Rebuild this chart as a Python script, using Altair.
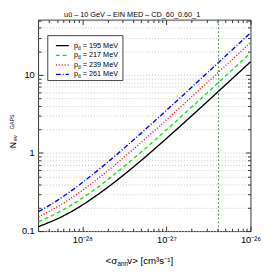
import altair as alt
import pandas as pd

# ---- data ----
sigma_v = [3e-29, 4e-29, 5e-29, 7e-29, 1e-28, 1.5e-28, 2e-28, 3e-28, 5e-28, 7e-28,
           1e-27, 2e-27, 3e-27, 5e-27, 7e-27, 1e-26]
n_195 = [0.114, 0.129, 0.143, 0.172, 0.216, 0.290, 0.363, 0.509, 0.80, 1.094,
         1.533, 2.996, 4.46, 7.39, 10.31, 14.70]
n_217 = [0.132, 0.151, 0.170, 0.208, 0.265, 0.360, 0.456, 0.646, 1.027, 1.407,
         1.978, 3.881, 5.784, 9.59, 13.40, 19.10]
n_239 = [0.152, 0.178, 0.204, 0.255, 0.333, 0.462, 0.591, 0.849, 1.366, 1.883,
         2.658, 5.24, 7.82, 12.99, 18.16, 25.90]
n_261 = [0.177, 0.212, 0.246, 0.315, 0.418, 0.590, 0.763, 1.107, 1.796, 2.484,
         3.517, 6.96, 10.40, 17.29, 24.17, 34.50]
energies = ["195", "217", "239", "261"]
series = [n_195, n_217, n_239, n_261]
colors = ["#000000", "#00ee00", "#ff0000", "#0000ff"]
dashes = [[1, 0], [4, 3], [1, 2], [5, 2, 1, 2]]
vline_x = [4.16e-27]

x_ticks = [3e-29, 4e-29, 5e-29, 6e-29, 7e-29, 8e-29, 9e-29,
           1e-28, 2e-28, 3e-28, 4e-28, 5e-28, 6e-28, 7e-28, 8e-28, 9e-28,
           1e-27, 2e-27, 3e-27, 4e-27, 5e-27, 6e-27, 7e-27, 8e-27, 9e-27, 1e-26]
y_ticks = [0.1, 0.2, 0.3, 0.4, 0.5, 0.6, 0.7, 0.8, 0.9,
           1, 2, 3, 4, 5, 6, 7, 8, 9, 10, 20, 30, 40, 50]

title_text = "u\u016b \u2013 10 GeV \u2013 EIN MED \u2013 CD_60_0.60_1"

rows = []
for e, vals in zip(energies, series):
    for xv, yv in zip(sigma_v, vals):
        rows.append({"sv": xv, "n": yv, "E": e})
df = pd.DataFrame(rows)
vdf = pd.DataFrame({"sv": vline_x})
one = pd.DataFrame({"a": [0]})

W, H = 219, 218
FONT = "Liberation Sans"
xdom = [2.97e-29, 1e-26]
ydom = [0.1, 51]
xs = alt.Scale(type="log", domain=xdom, nice=False)
ys = alt.Scale(type="log", domain=ydom, nice=False)

x_major = "datum.value == 1e-28 || datum.value == 1e-27 || datum.value == 1e-26"
y_major = "datum.value == 0.1 || datum.value == 1 || datum.value == 10"
x_lab = ("datum.value == 1e-28 ? '10\u207b\u00b2\u2078' : datum.value == 1e-27 ? "
         "'10\u207b\u00b2\u2077' : datum.value == 1e-26 ? '10\u207b\u00b2\u2076' : ''")
y_lab = ("datum.value == 0.1 ? '0.1' : datum.value == 1 ? '1' : "
         "datum.value == 10 ? '10' : ''")

tick_common = dict(labels=False, domain=False, grid=False, title=None,
                   tickColor="#333", tickWidth=1)

# curves with label axes and grid
curves = alt.Chart(df).mark_line(strokeWidth=1.4, interpolate="monotone").encode(
    x=alt.X("sv:Q", scale=xs, axis=alt.Axis(
        orient="bottom", values=x_ticks, labelExpr=x_lab, ticks=False, tickSize=0,
        domain=False, grid=False, title=None, labelFont=FONT, labelFontSize=9.5,
        labelColor="#000", labelPadding=4, labelFlush=False, labelOverlap=False)),
    y=alt.Y("n:Q", scale=ys, axis=alt.Axis(
        orient="left", values=y_ticks, labelExpr=y_lab, ticks=False, tickSize=0,
        domain=False, grid=True, gridDash=[1, 2], gridColor="#c4c4c4", title=None,
        labelFont=FONT, labelFontSize=9.5, labelColor="#000", labelPadding=4,
        labelFlush=False, labelOverlap=False)),
    color=alt.Color("E:N", scale=alt.Scale(domain=energies, range=colors), legend=None),
    strokeDash=alt.StrokeDash("E:N", scale=alt.Scale(domain=energies, range=dashes), legend=None),
)

# vertical dashed line, with inward ticks at bottom and left edges
vline = alt.Chart(vdf).mark_rule(color="#3f7f3f", strokeDash=[2, 2], strokeWidth=0.9).encode(
    x=alt.X("sv:Q", scale=xs, axis=alt.Axis(
        orient="top", offset=-H, values=x_ticks,
        tickSize={"condition": {"test": x_major, "value": 5}, "value": 3}, **tick_common)),
    y=alt.value(0), y2=alt.value(H),
)
ticks_lb = alt.Chart(df).mark_point(opacity=0).encode(
    x=alt.X("sv:Q", scale=xs, axis=None),
    y=alt.Y("n:Q", scale=ys, axis=alt.Axis(
        orient="right", offset=-W, values=y_ticks,
        tickSize={"condition": {"test": y_major, "value": 5}, "value": 3}, **tick_common)),
)
# inward ticks at top and right edges
ticks_tr = alt.Chart(df).mark_point(opacity=0).encode(
    x=alt.X("sv:Q", scale=xs, axis=alt.Axis(
        orient="bottom", offset=-H, values=x_ticks,
        tickSize={"condition": {"test": x_major, "value": 5}, "value": 3}, **tick_common)),
    y=alt.Y("n:Q", scale=ys, axis=alt.Axis(
        orient="left", offset=-W, values=y_ticks,
        tickSize={"condition": {"test": y_major, "value": 5}, "value": 3}, **tick_common)),
)

# legend
leg_layers = [alt.Chart(one).mark_rect(fill="white", stroke="#444", strokeWidth=1).encode(
    x=alt.value(10), x2=alt.value(87.5), y=alt.value(16.5), y2=alt.value(62.8))]
row_y = [26.8, 36.8, 46.8, 56.5]
for i, e in enumerate(energies):
    leg_layers.append(alt.Chart(one).mark_rule(
        color=colors[i], strokeDash=dashes[i], strokeWidth=1.4).encode(
        x=alt.value(18.4), x2=alt.value(31.7), y=alt.value(row_y[i])))
    leg_layers.append(alt.Chart(one).mark_text(
        font=FONT, fontSize=7.5, align="left", baseline="middle", color="#000").encode(
        x=alt.value(37), y=alt.value(row_y[i]), text=alt.value("p")))
    leg_layers.append(alt.Chart(one).mark_text(
        font=FONT, fontSize=5, align="left", baseline="middle", color="#000").encode(
        x=alt.value(41.2), y=alt.value(row_y[i] + 2), text=alt.value("d\u0304")))
    leg_layers.append(alt.Chart(one).mark_text(
        font=FONT, fontSize=7.5, align="left", baseline="middle", color="#000").encode(
        x=alt.value(46), y=alt.value(row_y[i]), text=alt.value("= " + e + " MeV")))

def txt(s, x, y, size, angle=0, align="left"):
    return alt.Chart(one).mark_text(
        font=FONT, fontSize=size, align=align, baseline="alphabetic",
        angle=angle, color="#000").encode(
        x=alt.value(x), y=alt.value(y), text=alt.value(s))

texts = [
    txt(title_text, 97, -2.5, 7.5, align="center"),
    # x title
    txt("<\u03c3", 81.5, 251.5, 10, align="right"),
    txt("ann", 81.8, 253.5, 6.5),
    txt("v>  [cm\u00b3s\u207b\u00b9]", 92, 251.5, 10),
    # y title
    txt("N", -22.5, 132.5, 9, angle=270),
    txt("ev", -21.5, 125, 5.5, angle=270),
    txt("GAPS", -25.3, 113, 5.5, angle=270),
]

chart = alt.layer(curves, vline, ticks_lb, ticks_tr, *leg_layers, *texts).resolve_axis(
    x="independent", y="independent"
).properties(
    width=W, height=H,
    autosize=alt.AutoSizeParams(type="none"),
    padding={"left": 31, "top": 8, "right": 16, "bottom": 32},
    background="white",
).configure_view(stroke="#333", strokeWidth=1)

chart.save("out.html", embed_options={"renderer": "svg", "actions": False})
